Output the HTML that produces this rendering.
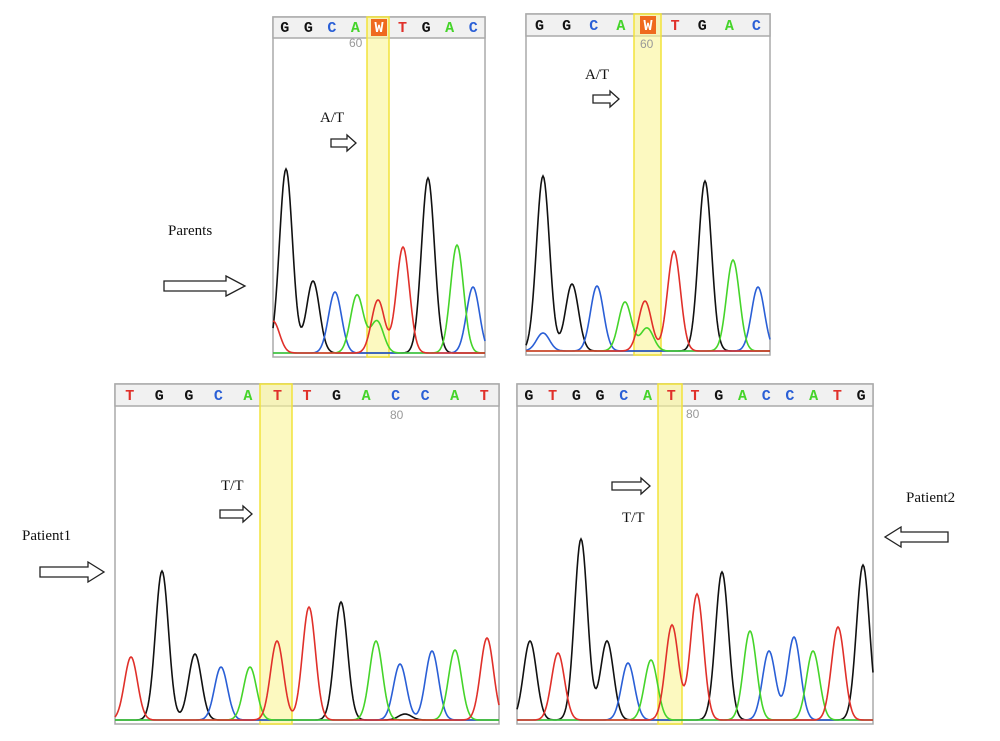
<!DOCTYPE html>
<html><head><meta charset="utf-8"><style>
html,body{margin:0;padding:0;background:#fff;}
svg{display:block;}
.lab{font-family:"Liberation Serif",serif;font-size:15px;fill:#111;}
.seq{font-family:"Liberation Mono",monospace;font-size:15px;font-weight:bold;}
.num{font-family:"Liberation Sans",sans-serif;font-size:12px;fill:#999;}
</style></head><body>
<svg id="fig" width="1000" height="741" viewBox="0 0 1000 741" xmlns="http://www.w3.org/2000/svg">
<g id="panels"></g>
<text class="lab" x="168" y="235">Parents</text>
<path d="M164,281 H226 V276 L245,286 L226,296 V291 H164 Z" fill="#fff" stroke="#222" stroke-width="1.3"/>
<text class="lab" x="22" y="540">Patient1</text>
<path d="M40,567 H88 V562 L104,572 L88,582 V577 H40 Z" fill="#fff" stroke="#222" stroke-width="1.3"/>
<text class="lab" x="906" y="502">Patient2</text>
<path d="M948,532 H901 V527 L885,537 L901,547 V542 H948 Z" fill="#fff" stroke="#222" stroke-width="1.3"/>
</svg>
<script>
// Peak data per panel: positions in scan units from panel start, heights in signal units
const p1Seq = ["G","G","C","A","W","T","G","A","C"];
const p1BlackPos = [13, 40, 155];   const p1BlackH = [184, 72, 175];
const p1BluePos = [62, 200];        const p1BlueH = [61, 66];
const p1GreenPos = [84, 104, 184];  const p1GreenH = [58, 32, 108];
const p1RedPos = [0, 105, 130];     const p1RedH = [32, 53, 106];

const p2Seq = ["G","G","C","A","W","T","G","A","C"];
const p2BlackPos = [17, 46, 179];   const p2BlackH = [175, 67, 170];
const p2BluePos = [17, 71, 232];    const p2BlueH = [18, 65, 64];
const p2GreenPos = [99, 121, 207];  const p2GreenH = [49, 23, 91];
const p2RedPos = [119, 148];        const p2RedH = [50, 100];

const p3Seq = ["T","G","G","C","A","T","T","G","A","C","C","A","T"];
const p3BlackPos = [47, 80, 226, 290];   const p3BlackH = [149, 66, 118, 6];
const p3BluePos = [106, 285, 317];       const p3BlueH = [53, 56, 69];
const p3GreenPos = [135, 261, 340];      const p3GreenH = [53, 79, 70];
const p3RedPos = [16, 162, 194, 372];    const p3RedH = [63, 79, 113, 82];

const p4Seq = ["G","T","G","G","C","A","T","T","G","A","C","C","A","T","G"];
const p4BlackPos = [13, 64, 90, 205, 346]; const p4BlackH = [79, 181, 79, 148, 155];
const p4BluePos = [111, 252, 277];         const p4BlueH = [57, 69, 83];
const p4GreenPos = [134, 233, 296];        const p4GreenH = [60, 89, 69];
const p4RedPos = [41, 155, 180, 321];      const p4RedH = [67, 95, 126, 93];

const NS = "http://www.w3.org/2000/svg";
const COL = {G:"#111", C:"#2a5fd6", A:"#45d42a", T:"#e0302a", W:"#fff"};
const root = document.getElementById("panels");
function mk(tag, attrs, parent){ const e=document.createElementNS(NS,tag); for(const k in attrs) e.setAttribute(k,attrs[k]); (parent||root).appendChild(e); return e; }

const panels = [
 {id:"parents-left", x:273, y:17, w:212, hTop:38, base:355, hl:[367,389], num:"60", numX:349, numY:47, seq:p1Seq, tr:[[p1BlackPos,p1BlackH,"#111"],[p1BluePos,p1BlueH,"#2a5fd6"],[p1GreenPos,p1GreenH,"#45d42a"],[p1RedPos,p1RedH,"#e0302a"]], call:"A/T", cx:320, cy:122, ax:331, ay:143, aw:25},
 {id:"parents-right", x:526, y:14, w:244, hTop:36, base:353, hl:[634,661], num:"60", numX:640, numY:48, seq:p2Seq, tr:[[p2BlackPos,p2BlackH,"#111"],[p2BluePos,p2BlueH,"#2a5fd6"],[p2GreenPos,p2GreenH,"#45d42a"],[p2RedPos,p2RedH,"#e0302a"]], call:"A/T", cx:585, cy:79, ax:593, ay:99, aw:26},
 {id:"patient1", x:115, y:384, w:384, hTop:406, base:722, hl:[260,292], num:"80", numX:390, numY:419, seq:p3Seq, tr:[[p3BlackPos,p3BlackH,"#111"],[p3BluePos,p3BlueH,"#2a5fd6"],[p3GreenPos,p3GreenH,"#45d42a"],[p3RedPos,p3RedH,"#e0302a"]], call:"T/T", cx:221, cy:490, ax:220, ay:514, aw:32},
 {id:"patient2", x:517, y:384, w:356, hTop:406, base:722, hl:[658,682], num:"80", numX:686, numY:418, seq:p4Seq, tr:[[p4BlackPos,p4BlackH,"#111"],[p4BluePos,p4BlueH,"#2a5fd6"],[p4GreenPos,p4GreenH,"#45d42a"],[p4RedPos,p4RedH,"#e0302a"]], call:"T/T", cx:622, cy:522, ax:612, ay:486, aw:38}
];

panels.forEach(p=>{
  const g = mk("g",{});
  
  
  const xS = v => p.x + v;
  const yS = v => p.base - 2 - v;
  mk("rect",{x:p.x,y:p.y,width:p.w,height:p.base-p.y+2,fill:"#fff",stroke:"#aaa","stroke-width":1.5},g);
  const hd = mk("rect",{x:p.x,y:p.y,width:p.w,height:p.hTop-p.y,fill:"#f1f1f1",stroke:"#aaa","stroke-width":1.5},g);
  
  
  const hlr = mk("rect",{x:p.hl[0],y:p.y,width:p.hl[1]-p.hl[0],height:p.base-p.y+2,fill:"rgba(250,245,150,0.6)",stroke:"#f2e33a","stroke-width":1.5},g);
  
  
  const step = p.w/p.seq.length;
  p.seq.forEach((c,i)=>{
    const cx = p.x + step*(i+0.5);
    if(c==="W"){ mk("rect",{x:cx-8,y:p.y+2,width:16,height:p.hTop-p.y-4,fill:"#ef6a1e"},g); }
    const t = mk("text",{x:cx,y:p.hTop-6,"text-anchor":"middle",class:"seq",fill:COL[c]},g);
    t.textContent=c;
    
    
  });
  const nt = mk("text",{x:p.numX,y:p.numY,class:"num"},g); nt.textContent=p.num;
  
  
  p.tr.forEach(([pos,h,col])=>{
    let d="";
    for(let s=0;s<=p.w;s+=1){
      let v=0; pos.forEach((c,k)=>{ v+=h[k]*Math.exp(-((s-c)*(s-c))/(2*6.5*6.5)); });
      d+=(s?"L":"M")+xS(s).toFixed(1)+","+yS(v).toFixed(1);
    }
    const path = mk("path",{d:d,fill:"none",stroke:col,"stroke-width":1.6},g);
    
    
  });
  const ct = mk("text",{x:p.cx,y:p.cy,class:"lab"},g); ct.textContent=p.call;
  
  
  const a = p.ax, y = p.ay, w = p.aw;
  const ar = mk("path",{d:`M${a},${y-4} H${a+w-9} V${y-8} L${a+w},${y} L${a+w-9},${y+8} V${y+4} H${a} Z`,fill:"#fff",stroke:"#222","stroke-width":1.3},g);
  
  
});
</script>
</body></html>
